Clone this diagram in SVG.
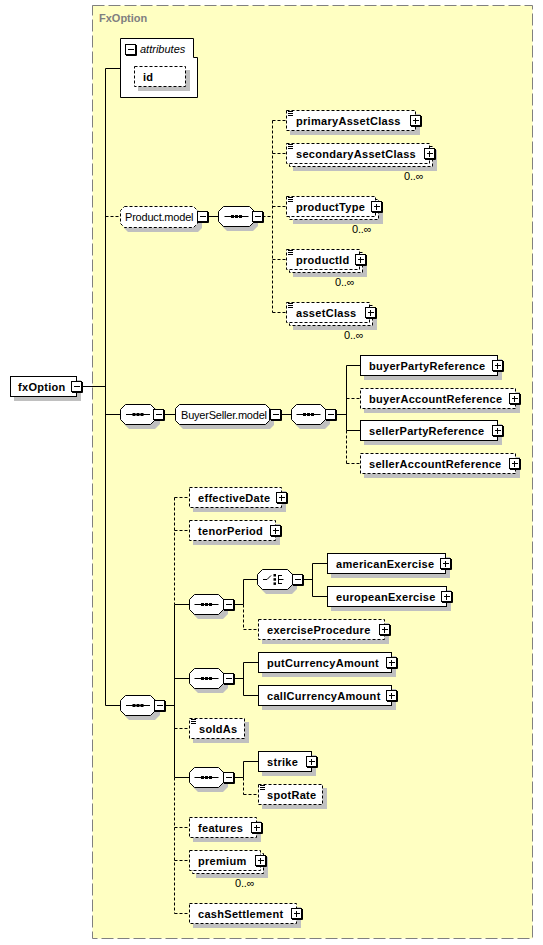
<svg xmlns="http://www.w3.org/2000/svg" width="543" height="945" viewBox="0 0 543 945">
<style>
.bg{fill:#FFFFC2;stroke:#808080;stroke-dasharray:12,4}
.box{fill:#fff;stroke:#000}
.opt{stroke-dasharray:3,2}
.sh{fill:#c0c0c0}
.ln{stroke:#000;fill:none}
.dl{stroke:#000;fill:none;stroke-dasharray:3,2}
.t{font-family:"Liberation Sans",Arial,sans-serif;font-size:11px;font-weight:bold;letter-spacing:0.3px;fill:#000}
.tn{font-family:"Liberation Sans",Arial,sans-serif;font-size:11px;letter-spacing:-0.2px;fill:#000}
.ti{font-family:"Liberation Sans",Arial,sans-serif;font-size:11px;font-style:italic;fill:#000}
.tg{font-family:"Liberation Sans",Arial,sans-serif;font-size:11px;font-weight:bold;fill:#808080}
</style>
<defs>
<g id="plus"><rect x="0.5" y="0.5" width="10" height="10" fill="#fff" stroke="#000"/><path d="M11.5,1 V11.5 H1" stroke="#000" fill="none"/><path d="M3,5.5 H9 M5.5,3 V9" stroke="#000"/></g>
<g id="minus"><rect x="0.5" y="0.5" width="10" height="10" fill="#fff" stroke="#000"/><path d="M11.5,1 V11.5 H1" stroke="#000" fill="none"/><path d="M3,5.5 H9" stroke="#000"/></g>
<g id="seqicon"><path d="M-12,0.5 H12" stroke="#000"/><rect x="-5.5" y="-1" width="3" height="3" fill="#000"/><rect x="-1.5" y="-1" width="3" height="3" fill="#000"/><rect x="2.5" y="-1" width="3" height="3" fill="#000"/></g>
<g id="eq"><path d="M1,1.5 H6 M1,3.5 H6 M1,5.5 H6" stroke="#000" fill="none"/></g>
</defs>

<rect class="bg" x="92.5" y="5.5" width="440" height="933"/>
<text class="tg" x="99" y="22">FxOption</text>

<g id="connectors">
<path class="ln" d="M81.5,386.5 H105.5 M105.5,68.5 V705.5 M105.5,68.5 H120.5"/>
<path class="dl" d="M105.5,216.5 H120.5"/>
<path class="ln" d="M207.5,216.5 H218.5"/>
<path class="dl" d="M262.5,216.5 H272.5 M272.5,120.5 V312.5 M272.5,120.5 H286.5 M272.5,153.5 H286.5 M272.5,206.5 H286.5 M272.5,259.5 H286.5 M272.5,312.5 H286.5"/>
<path class="ln" d="M105.5,414.5 H120.5 M163.5,414.5 H175.5 M280.5,414.5 H291.5 M335.5,414.5 H346.5 M346.5,365.5 V430.5 M346.5,365.5 H360.5 M346.5,430.5 H360.5"/>
<path class="dl" d="M346.5,430.5 V463.5 M346.5,398.5 H360.5 M346.5,463.5 H360.5"/>
<path class="ln" d="M105.5,705.5 H120.5 M164.5,705.5 H174.5 M174.5,604.5 V777.5 M174.5,604.5 H189.5 M174.5,678.5 H189.5 M174.5,777.5 H189.5"/>
<path class="dl" d="M174.5,497.5 V604.5 M174.5,777.5 V913.5 M174.5,497.5 H189.5 M174.5,530.5 H189.5 M174.5,728.5 H189.5 M174.5,827.5 H189.5 M174.5,860.5 H189.5 M174.5,913.5 H189.5"/>
<path class="ln" d="M233.5,604.5 H243.5 M243.5,579.5 V604.5 M243.5,579.5 H257.5 M302.5,579.5 H312.5 M312.5,563.5 V596.5 M312.5,563.5 H327.5 M312.5,596.5 H327.5"/>
<path class="dl" d="M243.5,604.5 V629.5 M243.5,629.5 H258.5"/>
<path class="ln" d="M233.5,678.5 H243.5 M243.5,662.5 V695.5 M243.5,662.5 H258.5 M243.5,695.5 H258.5"/>
<path class="ln" d="M233.5,777.5 H243.5 M243.5,761.5 V777.5 M243.5,761.5 H258.5"/>
<path class="dl" d="M243.5,777.5 V794.5 M243.5,794.5 H258.5"/>
</g>

<g id="fxOption">
<rect class="sh" x="14" y="380" width="67" height="21"/>
<rect class="box" x="10.5" y="376.5" width="66" height="20"/>
<text class="t" x="18" y="391">fxOption</text>
<use href="#minus" x="71" y="381"/>
</g>

<g id="attributes">
<path class="box" d="M120.5,38.5 H193.5 V57.5 H197.5 V97.5 H120.5 Z"/>
<use href="#minus" x="125" y="44"/>
<text class="ti" x="140" y="53">attributes</text>
<rect class="sh" x="138" y="70" width="52" height="21"/>
<rect class="box opt" x="134.5" y="66.5" width="51" height="20"/>
<text class="t" x="143" y="81">id</text>
</g>

<g id="ProductModel">
<path class="sh" d="M128,210 H198 L202,214 V228 L198,232 H128 L124,228 V214 Z"/>
<path class="box opt" d="M124.5,206.5 H193.5 L197.5,210.5 V223.5 L193.5,227.5 H124.5 L120.5,223.5 V210.5 Z"/>
<text class="tn" x="125" y="221">Product.model</text>
<use href="#minus" x="197" y="211"/>
</g>

<g id="seqProduct">
<path class="sh" d="M227,210 H253 L258,215 V226 L253,231 H227 L222,226 V215 Z"/>
<path class="box" d="M223.5,206.5 H249.5 L254.5,211.5 V221.5 L249.5,226.5 H223.5 L218.5,221.5 V211.5 Z"/>
<use href="#seqicon" x="236.5" y="216"/>
<use href="#minus" x="252" y="211"/>
</g>

<g id="primaryAssetClass">
<rect class="sh" x="290" y="114" width="130" height="21"/>
<rect class="box opt" x="286.5" y="110.5" width="129" height="20"/>
<use href="#eq" x="287" y="110"/>
<text class="t" x="296" y="125">primaryAssetClass</text>
<use href="#plus" x="410" y="115"/>
</g>

<g id="secondaryAssetClass">
<rect class="sh" x="293" y="150" width="144" height="21"/>
<rect class="box opt" x="289.5" y="146.5" width="143" height="20"/>
<rect class="box opt" x="286.5" y="143.5" width="143" height="20"/>
<use href="#eq" x="287" y="143"/>
<text class="t" x="296" y="158">secondaryAssetClass</text>
<use href="#plus" x="424" y="148"/>
<text class="tn" x="404" y="180">0..∞</text>
</g>

<g id="productType">
<rect class="sh" x="293" y="203" width="90" height="21"/>
<rect class="box opt" x="289.5" y="199.5" width="89" height="20"/>
<rect class="box opt" x="286.5" y="196.5" width="89" height="20"/>
<use href="#eq" x="287" y="196"/>
<text class="t" x="296" y="211">productType</text>
<use href="#plus" x="371" y="201"/>
<text class="tn" x="352" y="233">0..∞</text>
</g>

<g id="productId">
<rect class="sh" x="293" y="256" width="74" height="21"/>
<rect class="box opt" x="289.5" y="252.5" width="73" height="20"/>
<rect class="box opt" x="286.5" y="249.5" width="73" height="20"/>
<use href="#eq" x="287" y="249"/>
<text class="t" x="296" y="264">productId</text>
<use href="#plus" x="355" y="254"/>
<text class="tn" x="335" y="286">0..∞</text>
</g>

<g id="assetClass">
<rect class="sh" x="293" y="309" width="84" height="21"/>
<rect class="box opt" x="289.5" y="305.5" width="83" height="20"/>
<rect class="box opt" x="286.5" y="302.5" width="83" height="20"/>
<use href="#eq" x="287" y="302"/>
<text class="t" x="296" y="317">assetClass</text>
<use href="#plus" x="365" y="307"/>
<text class="tn" x="344" y="339">0..∞</text>
</g>

<g id="seqBuyerSeller">
<path class="sh" d="M129,408 H155 L160,413 V424 L155,429 H129 L124,424 V413 Z"/>
<path class="box" d="M125.5,404.5 H150.5 L155.5,409.5 V419.5 L150.5,424.5 H125.5 L120.5,419.5 V409.5 Z"/>
<use href="#seqicon" x="138" y="414"/>
<use href="#minus" x="153" y="409"/>
</g>

<g id="BuyerSellerModel">
<path class="sh" d="M183,408 H270 L274,412 V425 L270,429 H183 L179,425 V412 Z"/>
<path class="box" d="M179.5,404.5 H265.5 L269.5,408.5 V420.5 L265.5,424.5 H179.5 L175.5,420.5 V408.5 Z"/>
<text class="tn" x="181" y="419">BuyerSeller.model</text>
<use href="#minus" x="270" y="409"/>
</g>

<g id="seqParties">
<path class="sh" d="M300,408 H325 L330,413 V424 L325,429 H300 L295,424 V413 Z"/>
<path class="box" d="M296.5,404.5 H320.5 L325.5,409.5 V419.5 L320.5,424.5 H296.5 L291.5,419.5 V409.5 Z"/>
<use href="#seqicon" x="308.5" y="414"/>
<use href="#minus" x="325" y="409"/>
</g>

<g id="buyerPartyReference">
<rect class="sh" x="364" y="359" width="138" height="21"/>
<rect class="box" x="360.5" y="355.5" width="137" height="20"/>
<text class="t" x="369" y="370">buyerPartyReference</text>
<use href="#plus" x="492" y="360"/>
</g>
<g id="buyerAccountReference">
<rect class="sh" x="364" y="392" width="156" height="21"/>
<rect class="box opt" x="360.5" y="388.5" width="155" height="20"/>
<text class="t" x="369" y="403">buyerAccountReference</text>
<use href="#plus" x="509" y="393"/>
</g>
<g id="sellerPartyReference">
<rect class="sh" x="364" y="424" width="138" height="21"/>
<rect class="box" x="360.5" y="420.5" width="137" height="20"/>
<text class="t" x="369" y="435">sellerPartyReference</text>
<use href="#plus" x="492" y="425"/>
</g>
<g id="sellerAccountReference">
<rect class="sh" x="364" y="457" width="156" height="21"/>
<rect class="box opt" x="360.5" y="453.5" width="155" height="20"/>
<text class="t" x="369" y="468">sellerAccountReference</text>
<use href="#plus" x="509" y="458"/>
</g>

<g id="seqMain">
<path class="sh" d="M129,699 H155 L160,704 V715 L155,720 H129 L124,715 V704 Z"/>
<path class="box" d="M125.5,695.5 H150.5 L155.5,700.5 V710.5 L150.5,715.5 H125.5 L120.5,710.5 V700.5 Z"/>
<use href="#seqicon" x="138" y="705"/>
<use href="#minus" x="154" y="700"/>
</g>

<g id="effectiveDate">
<rect class="sh" x="193" y="491" width="93" height="21"/>
<rect class="box opt" x="189.5" y="487.5" width="92" height="20"/>
<text class="t" x="198" y="502">effectiveDate</text>
<use href="#plus" x="276" y="492"/>
</g>
<g id="tenorPeriod">
<rect class="sh" x="193" y="524" width="87" height="21"/>
<rect class="box opt" x="189.5" y="520.5" width="86" height="20"/>
<text class="t" x="198" y="535">tenorPeriod</text>
<use href="#plus" x="270" y="525"/>
</g>

<g id="seqExercise">
<path class="sh" d="M198,598 H223 L228,603 V614 L223,619 H198 L193,614 V603 Z"/>
<path class="box" d="M194.5,594.5 H218.5 L223.5,599.5 V609.5 L218.5,614.5 H194.5 L189.5,609.5 V599.5 Z"/>
<use href="#seqicon" x="206.5" y="604"/>
<use href="#minus" x="223" y="599"/>
</g>

<g id="choiceExercise">
<path class="sh" d="M266,573 H292 L297,578 V589 L292,594 H266 L261,589 V578 Z"/>
<path class="box" d="M262.5,569.5 H287.5 L292.5,574.5 V584.5 L287.5,589.5 H262.5 L257.5,584.5 V574.5 Z"/>
<path d="M263,579.5 H267 L271,575.5 M278.5,575 V584 M278.5,575.5 H282 M278.5,579.5 H283.5 M278.5,583.5 H282" stroke="#000" fill="none"/>
<rect x="273.5" y="574" width="2.5" height="2.5" fill="#000"/>
<rect x="273.5" y="578.2" width="2.5" height="2.5" fill="#000"/>
<rect x="273.5" y="582.4" width="2.5" height="2.5" fill="#000"/>
<use href="#minus" x="292" y="574"/>
</g>

<g id="americanExercise">
<rect class="sh" x="331" y="557" width="119" height="21"/>
<rect class="box" x="327.5" y="553.5" width="118" height="20"/>
<text class="t" x="336" y="568">americanExercise</text>
<use href="#plus" x="440" y="558"/>
</g>
<g id="europeanExercise">
<rect class="sh" x="331" y="590" width="120" height="21"/>
<rect class="box" x="327.5" y="586.5" width="119" height="20"/>
<text class="t" x="336" y="601">europeanExercise</text>
<use href="#plus" x="441" y="591"/>
</g>
<g id="exerciseProcedure">
<rect class="sh" x="262" y="623" width="127" height="21"/>
<rect class="box opt" x="258.5" y="619.5" width="126" height="20"/>
<text class="t" x="267" y="634">exerciseProcedure</text>
<use href="#plus" x="379" y="624"/>
</g>

<g id="seqCurrency">
<path class="sh" d="M198,672 H223 L228,677 V688 L223,693 H198 L193,688 V677 Z"/>
<path class="box" d="M194.5,668.5 H218.5 L223.5,673.5 V683.5 L218.5,688.5 H194.5 L189.5,683.5 V673.5 Z"/>
<use href="#seqicon" x="206.5" y="678"/>
<use href="#minus" x="223" y="673"/>
</g>
<g id="putCurrencyAmount">
<rect class="sh" x="262" y="656" width="134" height="21"/>
<rect class="box" x="258.5" y="652.5" width="133" height="20"/>
<text class="t" x="267" y="667">putCurrencyAmount</text>
<use href="#plus" x="386" y="657"/>
</g>
<g id="callCurrencyAmount">
<rect class="sh" x="262" y="689" width="134" height="21"/>
<rect class="box" x="258.5" y="685.5" width="133" height="20"/>
<text class="t" x="267" y="700">callCurrencyAmount</text>
<use href="#plus" x="386" y="690"/>
</g>

<g id="soldAs">
<rect class="sh" x="193" y="722" width="56" height="21"/>
<rect class="box opt" x="189.5" y="718.5" width="55" height="20"/>
<use href="#eq" x="190" y="718"/>
<text class="t" x="199" y="733">soldAs</text>
</g>

<g id="seqStrike">
<path class="sh" d="M198,771 H223 L228,776 V787 L223,792 H198 L193,787 V776 Z"/>
<path class="box" d="M194.5,767.5 H218.5 L223.5,772.5 V782.5 L218.5,787.5 H194.5 L189.5,782.5 V772.5 Z"/>
<use href="#seqicon" x="206.5" y="777"/>
<use href="#minus" x="223" y="772"/>
</g>
<g id="strike">
<rect class="sh" x="262" y="755" width="54" height="21"/>
<rect class="box" x="258.5" y="751.5" width="53" height="20"/>
<text class="t" x="267" y="766">strike</text>
<use href="#plus" x="306" y="756"/>
</g>
<g id="spotRate">
<rect class="sh" x="262" y="788" width="65" height="21"/>
<rect class="box opt" x="258.5" y="784.5" width="64" height="20"/>
<use href="#eq" x="259" y="784"/>
<text class="t" x="267" y="799">spotRate</text>
</g>

<g id="features">
<rect class="sh" x="193" y="821" width="68" height="21"/>
<rect class="box opt" x="189.5" y="817.5" width="67" height="20"/>
<text class="t" x="198" y="832">features</text>
<use href="#plus" x="251" y="822"/>
</g>
<g id="premium">
<rect class="sh" x="196" y="857" width="72" height="21"/>
<rect class="box opt" x="192.5" y="853.5" width="71" height="20"/>
<rect class="box opt" x="189.5" y="850.5" width="71" height="20"/>
<text class="t" x="198" y="865">premium</text>
<use href="#plus" x="255" y="855"/>
<text class="tn" x="235" y="887">0..∞</text>
</g>
<g id="cashSettlement">
<rect class="sh" x="193" y="907" width="108" height="21"/>
<rect class="box opt" x="189.5" y="903.5" width="107" height="20"/>
<text class="t" x="198" y="918">cashSettlement</text>
<use href="#plus" x="291" y="908"/>
</g>
</svg>
